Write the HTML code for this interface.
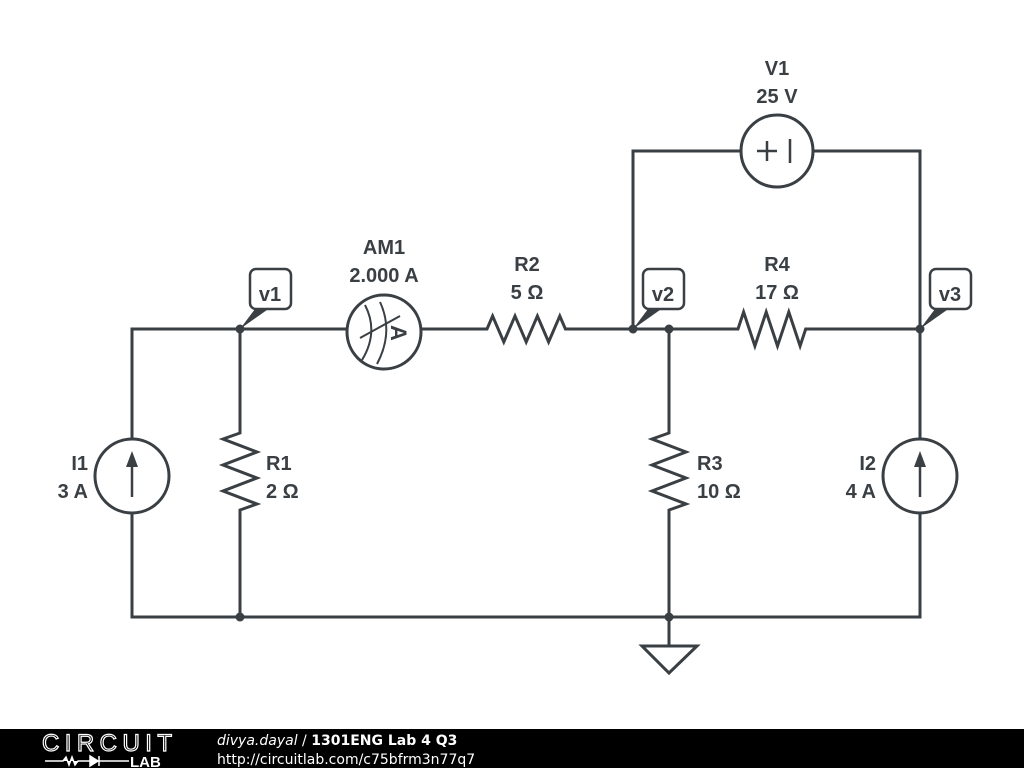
<!DOCTYPE html>
<html><head><style>
body{margin:0;width:1024px;height:768px;background:#fff;overflow:hidden;position:relative}
svg{position:absolute;left:0;top:0}
.t{font-family:"Liberation Sans",sans-serif;font-weight:bold;font-size:20px;fill:#3a3f44}
#foot{position:absolute;left:0;top:729px;width:1024px;height:39px;background:#000}
</style></head><body>
<svg width="1024" height="768" viewBox="0 0 1024 768">
<g fill="none" stroke="#3a3f44" stroke-width="3" stroke-linejoin="miter">
<path d="M132,439 V329 H347 M421,329 H487 l5.6,-13 l11.2,26 l11.2,-26 l11.2,26 l11.2,-26 l11.2,26 l11.2,-26 l5.6,13 H738 l5.6,-17 l11.3,34 l11.3,-34 l11.3,34 l11.3,-34 l11.3,34 l5.6,-17 H920 V439"/>
<path d="M132,513 V617 H920 V513"/>
<path d="M240,329 V433 l-17,6 l34,13 l-34,13 l34,13 l-34,13 l34,13 l-17,6 V617"/>
<path d="M669,329 V433 l-17,6 l34,13 l-34,13 l34,13 l-34,13 l34,13 l-17,6 V617"/>
<path d="M633,329 V151 H741 M813,151 H920 V329"/>
<circle cx="777" cy="151" r="36"/>
<path d="M757,151 h20 M767,141 v20 M790,139 v24" stroke-width="2.5"/>
<circle cx="384" cy="332" r="37"/>
<path d="M365,305 q14,27 -3,55 M380,302 q14,30 -3,62 M360,338 l40,-22" stroke-width="2"/>
<circle cx="132" cy="476" r="37"/>
<circle cx="920" cy="476" r="37"/>
<path d="M132,497 V460 M920,497 V460" stroke-width="2.5"/>
<path d="M669,617 V645 M642,646 H697 L669,673 Z"/>
</g>
<g fill="#3a3f44">
<path d="M132,451 l-6,16 h12z M920,451 l-6,16 h12z"/>
<circle cx="240" cy="329" r="4.5"/><circle cx="240" cy="617" r="4.5"/>
<circle cx="633" cy="329" r="4.5"/><circle cx="669" cy="329" r="4.5"/>
<circle cx="920" cy="329" r="4.5"/><circle cx="669" cy="617" r="4.5"/>
<path d="M240,329 l18,-24 l16,0 z M633,329 l18,-24 l16,0 z M920,329 l18,-24 l16,0 z"/>
</g>
<g fill="#fff" stroke="#3a3f44" stroke-width="2.5">
<rect x="250" y="269" width="41" height="40" rx="6"/>
<rect x="643" y="269" width="41" height="40" rx="6"/>
<rect x="930" y="269" width="41" height="40" rx="6"/>
</g>
<g class="t" text-anchor="middle">
<text x="270" y="301">v1</text><text x="663" y="301">v2</text><text x="950" y="301">v3</text>
<text x="384" y="254">AM1</text><text x="384" y="282">2.000 A</text>
<text x="527" y="271">R2</text><text x="527" y="299">5 Ω</text>
<text x="777" y="271">R4</text><text x="777" y="299">17 Ω</text>
<text x="777" y="75">V1</text><text x="777" y="103">25 V</text>
<text x="398" y="340" font-size="22" transform="rotate(90 398 333)">A</text>
</g>
<g class="t">
<text x="266" y="470">R1</text><text x="266" y="498">2 Ω</text>
<text x="697" y="470">R3</text><text x="697" y="498">10 Ω</text>
<text x="88" y="470" text-anchor="end">I1</text><text x="88" y="498" text-anchor="end">3 A</text>
<text x="876" y="470" text-anchor="end">I2</text><text x="876" y="498" text-anchor="end">4 A</text>
</g>
</svg>
<div id="foot">
<svg width="1024" height="39" viewBox="0 0 1024 39" style="left:0;top:0">
<text x="42" y="22" font-family="Liberation Sans,sans-serif" font-size="24" fill="none" stroke="#fff" stroke-width="1.2" textLength="130">CIRCUIT</text>
<path d="M45,32 h18 l3,-4 l3,8 l3,-8 l3,8 l3,-4 h12 M90,27 v10 l8,-5z M99,27 v10 M99,32 h30" stroke="#fff" stroke-width="1.5" fill="#fff"/>
<text x="130" y="38" font-family="Liberation Sans,sans-serif" font-weight="bold" font-size="15" fill="#fff">LAB</text>
<text x="217" y="16" font-family="DejaVu Sans,sans-serif" font-size="14" fill="#fff"><tspan font-style="italic">divya.dayal</tspan> / <tspan font-weight="bold">1301ENG Lab 4 Q3</tspan></text>
<text x="217" y="35" font-family="DejaVu Sans,sans-serif" font-size="14" fill="#fff">http://circuitlab.com/c75bfrm3n77q7</text>
</svg>
</div>
</body></html>
